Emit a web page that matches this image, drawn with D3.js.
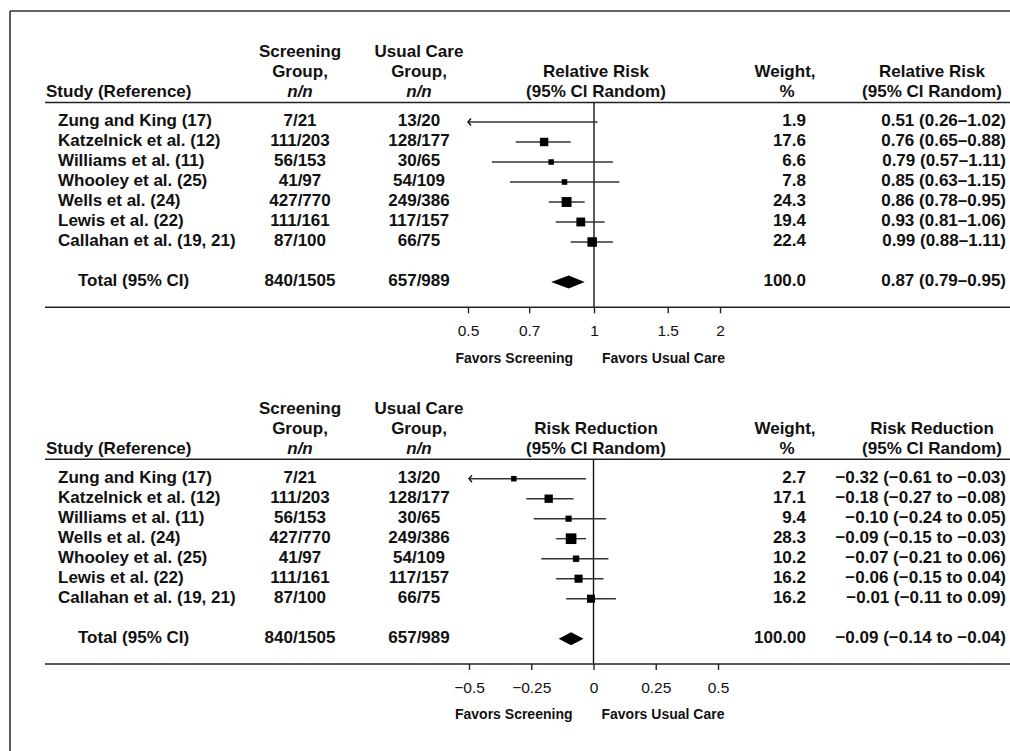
<!DOCTYPE html>
<html><head><meta charset="utf-8">
<script src="https://cdn.jsdelivr.net/npm/d3@7"></script>
<style>
body{margin:0;background:#fff;}
text{font-family:"Liberation Sans",Arial,sans-serif;fill:#111;}
</style>
</head><body>
<script>
// ---------- data: relative risk panel ----------
const rrStudies = ["Zung and King (17)", "Katzelnick et al. (12)", "Williams et al. (11)", "Whooley et al. (25)", "Wells et al. (24)", "Lewis et al. (22)", "Callahan et al. (19, 21)"];
const rrScreen = ["7/21", "111/203", "56/153", "41/97", "427/770", "111/161", "87/100"];
const rrUsual = ["13/20", "128/177", "30/65", "54/109", "249/386", "117/157", "66/75"];
const rrWeight = ["1.9", "17.6", "6.6", "7.8", "24.3", "19.4", "22.4"];
const rrEst = [0.51, 0.76, 0.79, 0.85, 0.86, 0.93, 0.99];
const rrLow = [0.26, 0.65, 0.57, 0.63, 0.78, 0.81, 0.88];
const rrHigh = [1.02, 0.88, 1.11, 1.15, 0.95, 1.06, 1.11];
const rrTotal = ["840/1505", "657/989", "100.0"];
const rrTotalCI = [0.87, 0.79, 0.95];
const rrTicks = [0.5, 0.7, 1, 1.5, 2];

// ---------- data: risk reduction panel ----------
const rdStudies = ["Zung and King (17)", "Katzelnick et al. (12)", "Williams et al. (11)", "Wells et al. (24)", "Whooley et al. (25)", "Lewis et al. (22)", "Callahan et al. (19, 21)"];
const rdScreen = ["7/21", "111/203", "56/153", "427/770", "41/97", "111/161", "87/100"];
const rdUsual = ["13/20", "128/177", "30/65", "249/386", "54/109", "117/157", "66/75"];
const rdWeight = ["2.7", "17.1", "9.4", "28.3", "10.2", "16.2", "16.2"];
const rdEst = [-0.32, -0.18, -0.10, -0.09, -0.07, -0.06, -0.01];
const rdLow = [-0.61, -0.27, -0.24, -0.15, -0.21, -0.15, -0.11];
const rdHigh = [-0.03, -0.08, 0.05, -0.03, 0.06, 0.04, 0.09];
const rdTotal = ["840/1505", "657/989", "100.00"];
const rdTotalCI = [-0.09, -0.14, -0.04];
const rdTicks = [-0.5, -0.25, 0, 0.25, 0.5];

const W = 1010, H = 751;
const svg = d3.select("body").append("svg").attr("width", W).attr("height", H);

// frame
svg.append("line").attr("x1", 10).attr("x2", W).attr("y1", 11).attr("y2", 11)
  .attr("stroke", "#333").attr("stroke-width", 1.6);
svg.append("line").attr("x1", 10).attr("x2", 10).attr("y1", 11).attr("y2", H)
  .attr("stroke", "#333").attr("stroke-width", 1.6);

const f2 = d3.format(".2f");
const wScale = d3.scaleSqrt().domain([0, 30]).range([0, 11]);

function panel(o) {
  const g = svg.append("g").attr("transform", `translate(0,${o.dy})`);
  const FS = 17;
  const txt = (x, y, t, anchor, opts = {}) => g.append("text")
    .attr("x", x).attr("y", y).attr("text-anchor", anchor)
    .attr("font-size", opts.size || FS).attr("font-weight", opts.weight || 700)
    .attr("font-style", opts.italic ? "italic" : "normal").text(t);

  const cScreen = 300, cUsual = 419, cMid = 596, cWeight = 785, wRight = 806, cRight = 932, rRight = 1006;
  // header
  txt(cScreen, 57, "Screening", "middle");
  txt(cUsual, 57, "Usual Care", "middle");
  txt(cScreen, 77, "Group,", "middle");
  txt(cUsual, 77, "Group,", "middle");
  txt(cScreen, 97, "n/n", "middle", {italic: true});
  txt(cUsual, 97, "n/n", "middle", {italic: true});
  txt(46, 97, "Study (Reference)", "start");
  txt(cMid, 77, o.measure, "middle");
  txt(cMid, 97, "(95% Cl Random)", "middle");
  txt(cWeight, 77, "Weight,", "middle");
  txt(cWeight + 2, 97, "%", "middle");
  txt(cRight, 77, o.measure, "middle");
  txt(cRight, 97, "(95% Cl Random)", "middle");

  const ruleY = 102.5, axisY = 307.3;
  g.append("line").attr("x1", 45).attr("x2", W).attr("y1", ruleY).attr("y2", ruleY)
    .attr("stroke", "#222").attr("stroke-width", 1.5);

  const yRow = d3.scaleLinear().domain([0, o.studies.length - 1]).range([126, 246]);
  const totalY = 286;
  const x = o.x;

  o.studies.forEach((s, i) => {
    const yb = yRow(i);
    txt(58, yb, s, "start");
    txt(cScreen, yb, o.screen[i], "middle");
    txt(cUsual, yb, o.usual[i], "middle");
    txt(wRight, yb, o.weight[i], "end");
    txt(rRight, yb, o.label(o.est[i], o.low[i], o.high[i]), "end");
  });
  txt(78, totalY, "Total (95% CI)", "start");
  txt(cScreen, totalY, o.total[0], "middle");
  txt(cUsual, totalY, o.total[1], "middle");
  txt(wRight, totalY, o.total[2], "end");
  txt(rRight, totalY, o.label(o.totalCI[0], o.totalCI[1], o.totalCI[2]), "end");

  // reference line
  g.append("line").attr("x1", x(o.ref)).attr("x2", x(o.ref)).attr("y1", ruleY).attr("y2", axisY)
    .attr("stroke", "#111").attr("stroke-width", 1.4);

  const [dmin, dmax] = x.domain();
  const xmin = x(dmin);
  // CI lines and boxes
  o.studies.forEach((s, i) => {
    const ym = yRow(i) - 4;
    const lo = Math.max(o.low[i], dmin), hi = Math.min(o.high[i], dmax);
    g.append("line").attr("x1", x(lo)).attr("x2", x(hi)).attr("y1", ym).attr("y2", ym)
      .attr("stroke", "#333").attr("stroke-width", 1.4);
    if (o.low[i] < dmin) {
      g.append("path").attr("d", `M${xmin + 3},${ym - 3.5}L${xmin},${ym}L${xmin + 3},${ym + 3.5}`)
        .attr("fill", "none").attr("stroke", "#111").attr("stroke-width", 1.4);
    }
    const sz = Math.max(5.5, wScale(+o.weight[i]));
    const cx = x(o.est[i]);
    if (cx - xmin > sz) {
      g.append("rect").attr("x", cx - sz / 2).attr("y", ym - sz / 2)
        .attr("width", sz).attr("height", sz).attr("fill", "#000");
    }
  });
  // diamond
  const ty = totalY - 4;
  g.append("path").attr("d",
    `M${x(o.totalCI[1])},${ty}L${x(o.totalCI[0])},${ty - 6.5}L${x(o.totalCI[2])},${ty}L${x(o.totalCI[0])},${ty + 6.5}Z`)
    .attr("fill", "#000");

  // axis
  g.append("line").attr("x1", 45).attr("x2", W).attr("y1", axisY).attr("y2", axisY)
    .attr("stroke", "#222").attr("stroke-width", 1.5);
  const ax = g.append("g").attr("transform", `translate(0,${axisY})`)
    .call(d3.axisBottom(x).tickValues(o.ticks).tickFormat(d3.format("~g")).tickSize(6).tickPadding(12));
  ax.select(".domain").remove();
  ax.selectAll(".tick line").attr("stroke", "#222").attr("stroke-width", 1.4);
  ax.selectAll(".tick text").attr("font-family", "Liberation Sans, Arial, sans-serif").attr("font-size", 15.5)
    .attr("fill", "#111");

  const xr = x(o.ref);
  txt(xr - 21, 362.7, "Favors Screening", "end", {size: 14});
  txt(xr + 8, 362.7, "Favors Usual Care", "start", {size: 14});
}

panel({
  dy: 0, measure: "Relative Risk", studies: rrStudies, screen: rrScreen, usual: rrUsual,
  weight: rrWeight, est: rrEst, low: rrLow, high: rrHigh, total: rrTotal, totalCI: rrTotalCI,
  ticks: rrTicks, ref: 1,
  x: d3.scaleLog().domain([0.5, 2]).range([468, 720]),
  label: (e, l, h) => `${f2(e)} (${f2(l)}–${f2(h)})`
});
panel({
  dy: 356.7, measure: "Risk Reduction", studies: rdStudies, screen: rdScreen, usual: rdUsual,
  weight: rdWeight, est: rdEst, low: rdLow, high: rdHigh, total: rdTotal, totalCI: rdTotalCI,
  ticks: rdTicks, ref: 0,
  x: d3.scaleLinear().domain([-0.5, 0.5]).range([469, 718]),
  label: (e, l, h) => `${f2(e)} (${f2(l)} to ${f2(h)})`
});
</script>
</body></html>
